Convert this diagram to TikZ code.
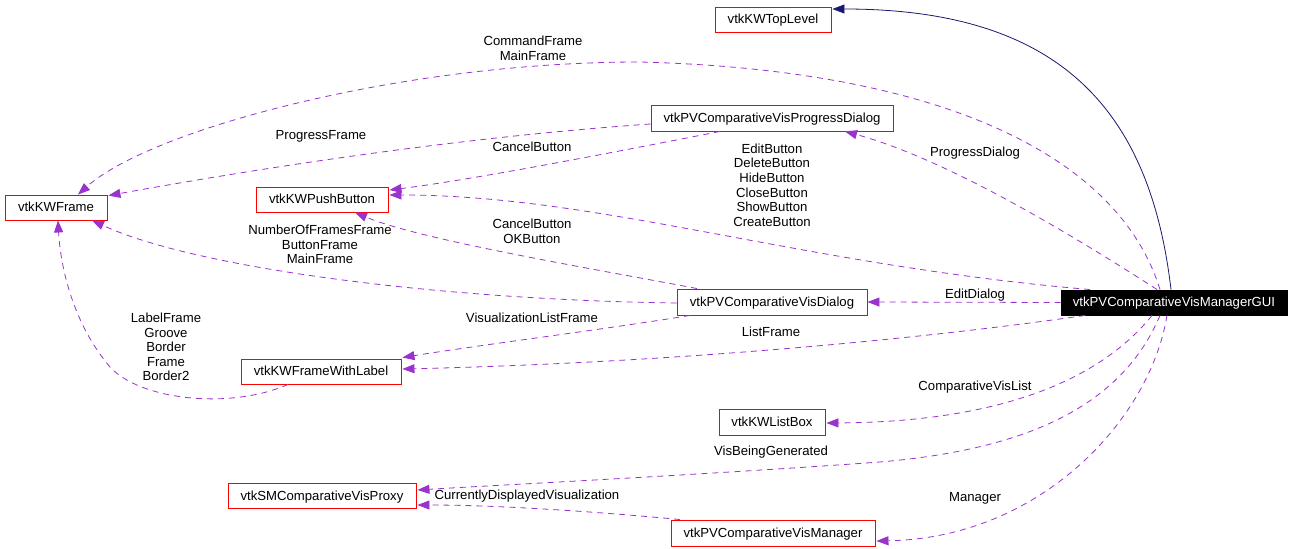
\documentclass[tikz,border=0pt]{standalone}
\usepackage{fontspec}
\setmainfont{Liberation Sans}
\usetikzlibrary{arrows.meta,calc}
\definecolor{edgepurple}{HTML}{9A32CD}
\definecolor{navyedge}{HTML}{191970}
\begin{document}
\begin{tikzpicture}[x=1bp,y=-1bp,
  every node/.style={font=\fontsize{13.2}{14.7}\selectfont, inner sep=0pt},
  cls/.style={draw=red, line width=0.9bp, fill=white, align=center, text height=9.5bp, text depth=0.5bp},
  mainbox/.style={draw=black, fill=black, text=white, line width=0.9bp, text height=9.5bp, text depth=0.5bp},
  lbl/.style={align=center},
  rel/.style={draw=edgepurple, line width=0.8bp, dash pattern=on 6bp off 5bp,
    -{Triangle[length=12bp,width=9bp,fill=edgepurple]}},
  inh/.style={draw=navyedge, line width=0.8bp,
    -{Triangle[length=12bp,width=9bp,fill=navyedge]}}]
\useasboundingbox[fill=white] (0,0) rectangle (1293,549);

% nodes
\node[cls, minimum width=116bp, minimum height=25bp] (top) at (773,19.5) {vtkKWTopLevel};
\node[cls, minimum width=242bp, minimum height=26bp] (prog) at (772,118) {vtkPVComparativeVisProgressDialog};
\node[cls, minimum width=102bp, minimum height=25bp] (frame) at (56,207.5) {vtkKWFrame};
\node[cls, minimum width=132bp, minimum height=25bp] (push) at (322,199.5) {vtkKWPushButton};
\node[cls, minimum width=190bp, minimum height=26bp] (dlg) at (772,302) {vtkPVComparativeVisDialog};
\node[mainbox, minimum width=226bp, minimum height=25bp] (gui) at (1174,302.5) {vtkPVComparativeVisManagerGUI};
\node[cls, minimum width=160bp, minimum height=25bp] (fwl) at (321,371.5) {vtkKWFrameWithLabel};
\node[cls, minimum width=106bp, minimum height=26bp] (list) at (772,422) {vtkKWListBox};
\node[cls, minimum width=188bp, minimum height=25bp] (proxy) at (322,495.5) {vtkSMComparativeVisProxy};
\node[cls, minimum width=204bp, minimum height=26bp] (mgr) at (773,533) {vtkPVComparativeVisManager};

% edges
\draw[inh] ($(gui.north)+(-3,0)$) .. controls (1150,110) and (1060,9) .. ($(top.east)+(1,-10.5)$);

\draw[rel] ($(gui.north)+(-14,0)$) .. controls (1120,160) and (950,70) .. (640,62)
  .. controls (400,62) and (150,130) .. ($(frame.north)+(22,0)$);

\draw[rel] ($(prog.west)+(0,6)$) .. controls (450,138) and (250,170) .. ($(frame.north east)+(1,1)$);

\draw[rel] ($(prog.south)+(-52,0)$) .. controls (600,155) and (470,180) .. ($(push.east)+(1,-9.5)$);

\draw[rel] ($(gui.north)+(-17,0)$) .. controls (1080,240) and (950,160) .. ($(prog.south)+(73,0)$);

\draw[rel] ($(gui.north)+(-84,0)$) .. controls (800,265) and (600,195) .. ($(push.east)+(1,-4.5)$);

\draw[rel] ($(dlg.north)+(-75,0)$) .. controls (600,270) and (420,240) .. ($(push.south)+(33,0)$);

\draw[rel] ($(dlg.west)+(0,1)$) .. controls (450,300) and (200,270) .. ($(frame.south)+(36,0)$);

\draw[rel] (gui.west) -- (dlg.east);

\draw[rel] ($(dlg.south)+(-82,0)$) .. controls (600,330) and (480,345) .. ($(fwl.north east)+(1,-1)$);

\draw[rel] ($(gui.south)+(-89,0)$) .. controls (950,335) and (700,362) .. ($(fwl.east)+(1,-2.5)$);

\draw[rel] ($(fwl.south)+(-33,0)$) .. controls (230,410) and (140,400) .. (110,367)
  .. controls (70,320) and (60,260) .. ($(frame.south)+(2,0)$);

\draw[rel] ($(gui.south)+(-22,0)$) .. controls (1100,380) and (1000,422) .. ($(list.east)+(1,1)$);

\draw[rel] ($(gui.south)+(-14,0)$) .. controls (1120,410) and (1020,450) .. (880,462)
  .. controls (700,475) and (500,485) .. ($(proxy.east)+(1,-5.5)$);

\draw[rel] ($(mgr.north)+(-93,0)$) .. controls (600,512) and (500,505) .. ($(proxy.east)+(1,9.5)$);

\draw[rel] ($(gui.south)+(-7,0)$) .. controls (1150,420) and (1040,538) .. ($(mgr.east)+(1,8)$);

% labels
\node[lbl] (l1) at (533,48) {CommandFrame\\MainFrame};
\node[lbl] (l2) at (321,136) {ProgressFrame};
\node[lbl] (l3) at (532,147) {CancelButton};
\node[lbl] (l4) at (975,153) {ProgressDialog};
\node[lbl] (l5) at (772,185) {EditButton\\DeleteButton\\HideButton\\CloseButton\\ShowButton\\CreateButton};
\node[lbl] (l6) at (532,231.5) {CancelButton\\OKButton};
\node[lbl] (l7) at (320,244.5) {NumberOfFramesFrame\\ButtonFrame\\MainFrame};
\node[lbl] (l8) at (975,295) {EditDialog};
\node[lbl] (l9) at (532,318) {VisualizationListFrame};
\node[lbl] (l10) at (771,332) {ListFrame};
\node[lbl] (l11) at (166,347) {LabelFrame\\Groove\\Border\\Frame\\Border2};
\node[lbl] (l12) at (975,387) {ComparativeVisList};
\node[lbl] (l13) at (771,452) {VisBeingGenerated};
\node[lbl] (l14) at (527,496) {CurrentlyDisplayedVisualization};
\node[lbl] (l15) at (975,498) {Manager};
\end{tikzpicture}
\end{document}
